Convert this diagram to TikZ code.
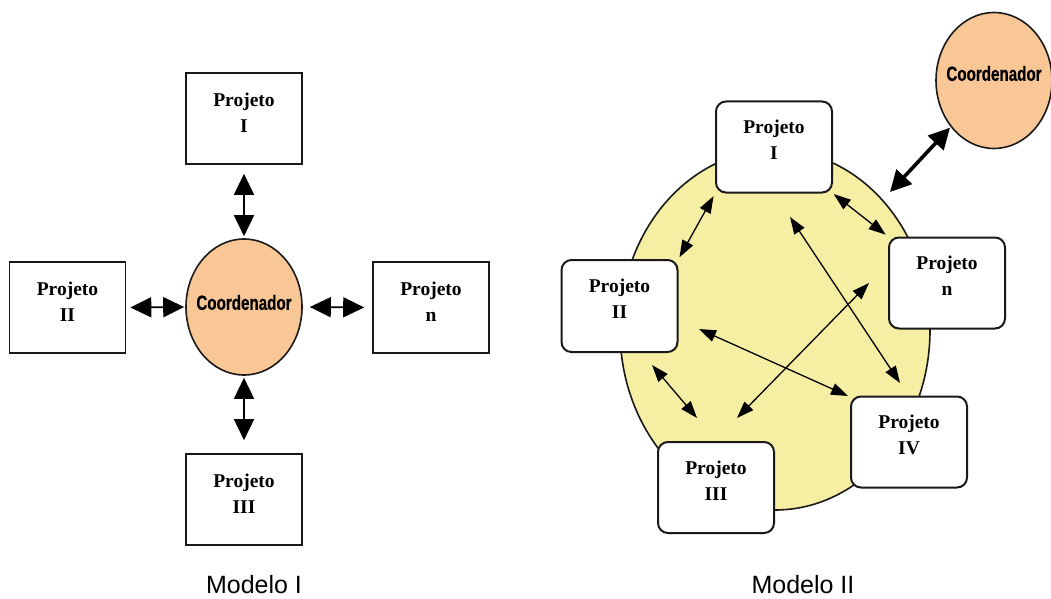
\documentclass[tikz,border=0pt]{standalone}
\usepackage{fontspec}
\setmainfont{Liberation Serif}
\newfontfamily\narrowsans[FakeStretch=0.74, BoldFeatures={FakeBold=0.6}]{Liberation Sans}
\newfontfamily\plainsans{Liberation Sans}
\usetikzlibrary{shapes.geometric,arrows.meta}
\definecolor{coordfill}{RGB}{249,199,150}
\definecolor{groupfill}{RGB}{245,238,163}
\definecolor{inkline}{RGB}{25,25,25}

\begin{document}
\begin{tikzpicture}[x=1pt,y=-1pt,
  sqbox/.style={draw=inkline, line width=1.6pt, fill=white,
    minimum width=116pt, minimum height=91pt, inner sep=0pt},
  rbox/.style={sqbox, rounded corners=10pt, line width=2pt},
  ptext/.style={font=\fontsize{19.5}{26}\selectfont\bfseries,
    align=center, inner sep=0pt},
  coordshape/.style={ellipse, draw=inkline, line width=1.6pt, fill=coordfill,
    minimum width=116pt, minimum height=136pt, inner sep=0pt},
  ctext/.style={font=\narrowsans\bfseries\fontsize{20.5}{24}\selectfont, inner sep=0pt},
  leftarr/.style={line width=1.6pt,
    {Triangle[length=21pt,width=20pt]}-{Triangle[length=21pt,width=20pt]}},
  thinarr/.style={line width=1.3pt,
    {Triangle[length=17pt,width=12pt]}-{Triangle[length=17pt,width=12pt]}},
  heavyarr/.style={line width=3.6pt,
    {Triangle[length=21pt,width=21pt]}-{Triangle[length=21pt,width=21pt]}},
  captxt/.style={font=\plainsans\fontsize{25}{30}\selectfont, inner sep=0pt, anchor=base}
]
\useasboundingbox (0,0) rectangle (1051,599);

% ---------------- Modelo I: coordinator in the middle ----------------
\node[coordshape] (LC) at (244,307) {};
\node[ctext] (LCt) at ([yshift=4.5pt]LC.center) {Coordenador};

\node[sqbox] (L1) at (244,118.5) {};
\node[ptext] (L1t) at ([yshift=6pt]L1.center) {Projeto\\I};
\node[sqbox] (L2) at (67.5,307.5) {};
\node[ptext] (L2t) at ([yshift=6pt]L2.center) {Projeto\\II};
\node[sqbox] (Ln) at (431,307.5) {};
\node[ptext] (Lnt) at ([yshift=6pt]Ln.center) {Projeto\\n};
\node[sqbox] (L3) at (244,499.5) {};
\node[ptext] (L3t) at ([yshift=6pt]L3.center) {Projeto\\III};

\draw[leftarr, shorten <=9pt, shorten >=2pt] (L1.south) -- (LC.north);
\draw[leftarr, shorten <=4pt, shorten >=1pt] (L2.east) -- (LC.west);
\draw[leftarr, shorten <=7pt, shorten >=8pt] (LC.east) -- (Ln.west);
\draw[leftarr, shorten <=2pt, shorten >=13pt] (LC.south) -- (L3.north);

\node[captxt] (cap1) at (254,593) {Modelo I};

% ---------------- Modelo II: projects in a shared group ----------------
\node[ellipse, draw=inkline, line width=1.6pt, fill=groupfill,
  minimum width=310pt, minimum height=360pt, inner sep=0pt] (grp) at (775,330) {};

\node[rbox] (R1) at (774,147) {};
\node[ptext] (R1t) at ([yshift=7pt]R1.center) {Projeto\\I};
\node[rbox] (Rn) at (947,283) {};
\node[ptext] (Rnt) at ([yshift=7pt]Rn.center) {Projeto\\n};
\node[rbox, minimum height=92pt] (R2) at (619.5,306) {};
\node[ptext] (R2t) at ([yshift=7pt]R2.center) {Projeto\\II};
\node[rbox] (R3) at (716,487.5) {};
\node[ptext] (R3t) at ([yshift=7pt]R3.center) {Projeto\\III};
\node[rbox] (R4) at (909,442) {};
\node[ptext] (R4t) at ([yshift=7pt]R4.center) {Projeto\\IV};

\node[coordshape] (RC) at (994,80.5) {};
\node[ctext] (RCt) at ([yshift=7pt]RC.center) {Coordenador};

% free ends of the links inside the group
\coordinate (grpedge) at (890,192);
\coordinate (aI)   at (790,217);
\coordinate (aIV)  at (900,383);
\coordinate (bn)   at (869,283);
\coordinate (bIII) at (737,418);
\coordinate (cII)  at (699,329);
\coordinate (cIV)  at (848,396);
\coordinate (dII)  at (652,365);
\coordinate (dIII) at (697,418);

\draw[heavyarr, shorten <=1pt] (RC) -- (grpedge);
\draw[thinarr, shorten <=3pt, shorten >=2pt] (R1.south west) -- (R2.north east);
\draw[thinarr, shorten <=1pt, shorten >=3pt] (R1.south east) -- (Rn.north west);
\draw[thinarr] (aI) -- (aIV);
\draw[thinarr] (bn) -- (bIII);
\draw[thinarr] (cII) -- (cIV);
\draw[thinarr] (dII) -- (dIII);

\node[captxt] (cap2) at (803,593) {Modelo II};
\end{tikzpicture}
\end{document}
